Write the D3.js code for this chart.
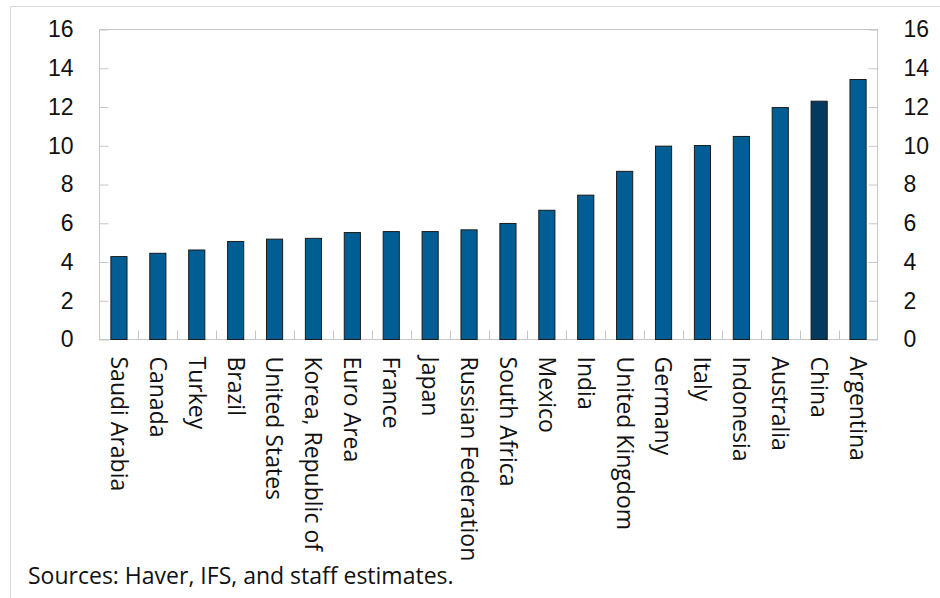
<!DOCTYPE html>
<html>
<head>
<meta charset="utf-8">
<script src="https://cdn.jsdelivr.net/npm/d3@7"></script>
<style>
  html, body { margin: 0; padding: 0; background: #fff; }
  svg { display: block; font-family: "Open Sans", "Noto Sans", sans-serif; }
</style>
</head>
<body>
<svg id="chart" width="940" height="598"></svg>
<script>
const categories = ["Saudi Arabia", "Canada", "Turkey", "Brazil", "United States", "Korea, Republic of",
  "Euro Area", "France", "Japan", "Russian Federation", "South Africa", "Mexico", "India",
  "United Kingdom", "Germany", "Italy", "Indonesia", "Australia", "China", "Argentina"];
const values = [4.28, 4.45, 4.62, 5.06, 5.18, 5.22, 5.52, 5.57, 5.57, 5.66, 5.99, 6.67, 7.45,
  8.68, 9.98, 10.01, 10.48, 11.97, 12.30, 13.42];
const highlight = ["China"];
const yTicks = [0, 2, 4, 6, 8, 10, 12, 14, 16];
const sourceNote = "Sources: Haver, IFS, and staff estimates.";

const svg = d3.select("#chart");
const W = 940, H = 598;
const m = { left: 99.5, right: 877.5, top: 29.5, bottom: 339.5 };
const gray = "#c6c6c6";
const barColor = "#005e94";
const hiColor = "#043a5f";
const fs = 23;

// outer frame (top and left)
svg.append("line").attr("x1", 10.5).attr("x2", W).attr("y1", 6.5).attr("y2", 6.5).attr("stroke", "#d9d9d9");
svg.append("line").attr("x1", 10.5).attr("x2", 10.5).attr("y1", 6.5).attr("y2", H).attr("stroke", "#d9d9d9");

const x = d3.scaleBand().domain(categories).range([m.left, m.right]).paddingInner(0.585).paddingOuter(0.2925);
const xTickScale = d3.scaleLinear().domain([0, categories.length]).range([m.left, m.right]);
const y = d3.scaleLinear().domain([0, 16]).range([m.bottom, m.top]);

// plot frame
svg.append("rect").attr("x", m.left).attr("y", m.top).attr("width", m.right - m.left)
  .attr("height", m.bottom - m.top).attr("fill", "none").attr("stroke", gray);

// left axis
const yL = svg.append("g").attr("transform", `translate(${m.left},0)`)
  .call(d3.axisLeft(y).tickValues(yTicks).tickSize(-9).tickPadding(26).tickFormat(d3.format("d")));
yL.select(".domain").remove();
yL.selectAll(".tick line").attr("stroke", gray);
yL.selectAll(".tick text").attr("font-size", fs).attr("fill", "#111").attr("font-family", null);

// right axis
const yR = svg.append("g").attr("transform", `translate(${m.right},0)`)
  .call(d3.axisRight(y).tickValues(yTicks).tickSize(-9).tickPadding(26).tickFormat(d3.format("d")));
yR.select(".domain").remove();
yR.selectAll(".tick line").attr("stroke", gray);
yR.selectAll(".tick text").attr("font-size", fs).attr("fill", "#111").attr("font-family", null);

// category separator ticks
svg.append("g").selectAll("line").data(d3.range(1, categories.length)).join("line")
  .attr("x1", d => Math.round(xTickScale(d)) + 0.5).attr("x2", d => Math.round(xTickScale(d)) + 0.5)
  .attr("y1", m.bottom).attr("y2", m.bottom - 9).attr("stroke", gray);

// bars
svg.append("g").selectAll("rect").data(categories).join("rect")
  .attr("x", d => x(d))
  .attr("y", (d, i) => y(values[i]))
  .attr("width", x.bandwidth())
  .attr("height", (d, i) => y(0) - y(values[i]))
  .attr("fill", d => highlight.includes(d) ? hiColor : barColor)
  .attr("stroke", "#1b1b1b").attr("stroke-width", 1);

// x labels (rotated 90° clockwise)
svg.append("g").selectAll("text").data(categories).join("text")
  .attr("transform", d => `translate(${x(d) + x.bandwidth() / 2},${m.bottom + 17}) rotate(90)`)
  .attr("dy", "0.35em")
  .attr("font-size", fs).attr("fill", "#111")
  .text(d => d);

// source note
svg.append("text").attr("x", 28).attr("y", 584).attr("font-size", fs).attr("fill", "#111").text(sourceNote);
</script>
</body>
</html>
